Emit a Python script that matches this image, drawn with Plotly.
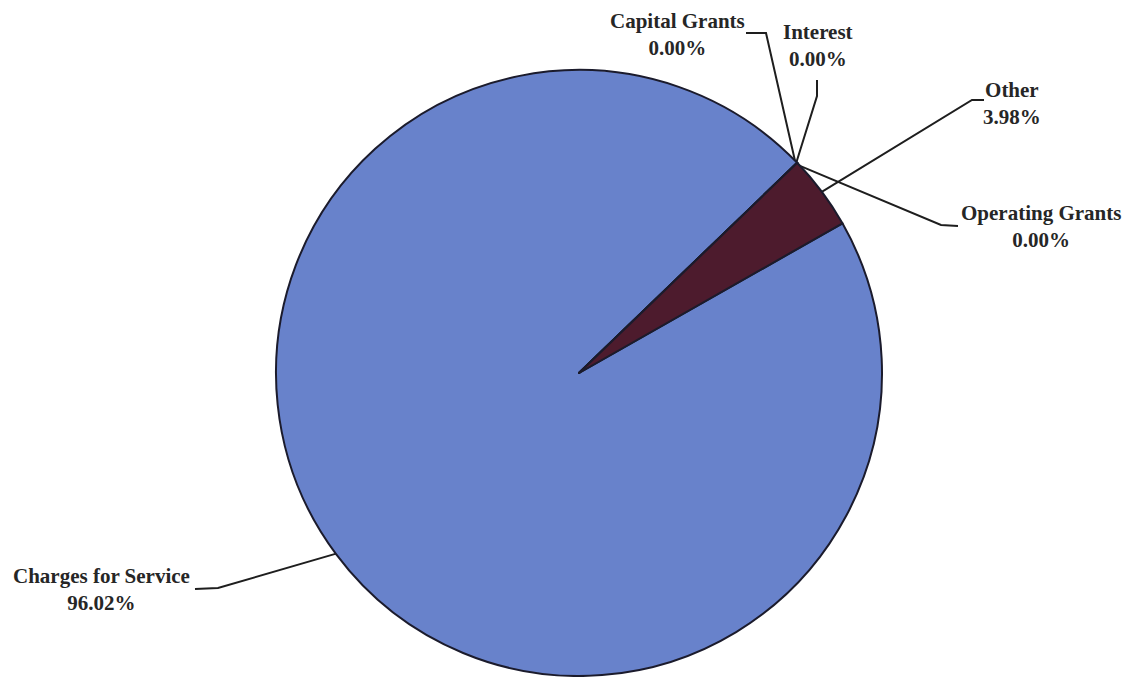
import math
import plotly.graph_objects as go

W, H = 1129, 677

# ---- data ----
categories = ["Charges for Service", "Capital Grants", "Interest", "Operating Grants", "Other"]
percent_values = [96.02, 0.00, 0.00, 0.00, 3.98]
pct_labels = ["96.02%", "0.00%", "0.00%", "0.00%", "3.98%"]
slice_colors = ["#6882cb", "#6882cb", "#6882cb", "#6882cb", "#4d1b2d"]

# ---- layout / styling (pixel geometry) ----
CX, CY, R = 579, 373, 303
ROTATION = 60.4
# leader line elbow and end points, and label centres (pixels)
elbows = {
    "Charges for Service": (218, 588),
    "Capital Grants": (766, 33),
    "Interest": (817, 96),
    "Operating Grants": (941, 225),
    "Other": (972, 100),
}
ends = {
    "Charges for Service": (195, 589),
    "Capital Grants": (746, 33),
    "Interest": (817, 80),
    "Operating Grants": (958, 226),
    "Other": (984, 100),
}
label_pos = {
    "Charges for Service": (101, 589),
    "Capital Grants": (677, 34),
    "Interest": (818, 45),
    "Operating Grants": (1041, 226),
    "Other": (1012, 103),
}

fig = go.Figure()

fig.add_trace(go.Pie(
    labels=categories,
    values=percent_values,
    sort=False,
    direction="clockwise",
    rotation=ROTATION,
    textinfo="none",
    hoverinfo="label+percent",
    marker=dict(colors=slice_colors, line=dict(color="#1b1b2c", width=2)),
    domain=dict(x=[(CX - R) / W, (CX + R) / W], y=[1 - (CY + R) / H, 1 - (CY - R) / H]),
    showlegend=False,
))

# leader lines computed from the slice mid angles
total = sum(percent_values)
cum = 0.0
annotations = []
for cat, v, pl in zip(categories, percent_values, pct_labels):
    mid = ROTATION + (cum + v / 2) / total * 360.0
    cum += v
    a = math.radians(mid)
    sx = CX + (R - 2) * math.sin(a)
    sy = CY - (R - 2) * math.cos(a)
    ex, ey = elbows[cat]
    tx, ty = ends[cat]
    fig.add_trace(go.Scatter(
        x=[sx, ex, tx], y=[sy, ey, ty], mode="lines",
        line=dict(color="#1e1e1e", width=2),
        hoverinfo="skip", showlegend=False,
    ))
    lx, ly = label_pos[cat]
    annotations.append(dict(
        x=lx, y=ly, xref="x", yref="y", text=f"{cat}<br>{pl}",
        showarrow=False, xanchor="center", yanchor="middle", align="center",
        font=dict(family="Liberation Serif", size=21, color="#262626", weight="bold"),
    ))

fig.update_layout(
    width=W, height=H,
    margin=dict(l=0, r=0, t=0, b=0),
    paper_bgcolor="white", plot_bgcolor="rgba(0,0,0,0)",
    xaxis=dict(range=[0, W], visible=False, fixedrange=True),
    yaxis=dict(range=[H, 0], visible=False, fixedrange=True),
    annotations=annotations,
)

fig.write_html("out.html")
